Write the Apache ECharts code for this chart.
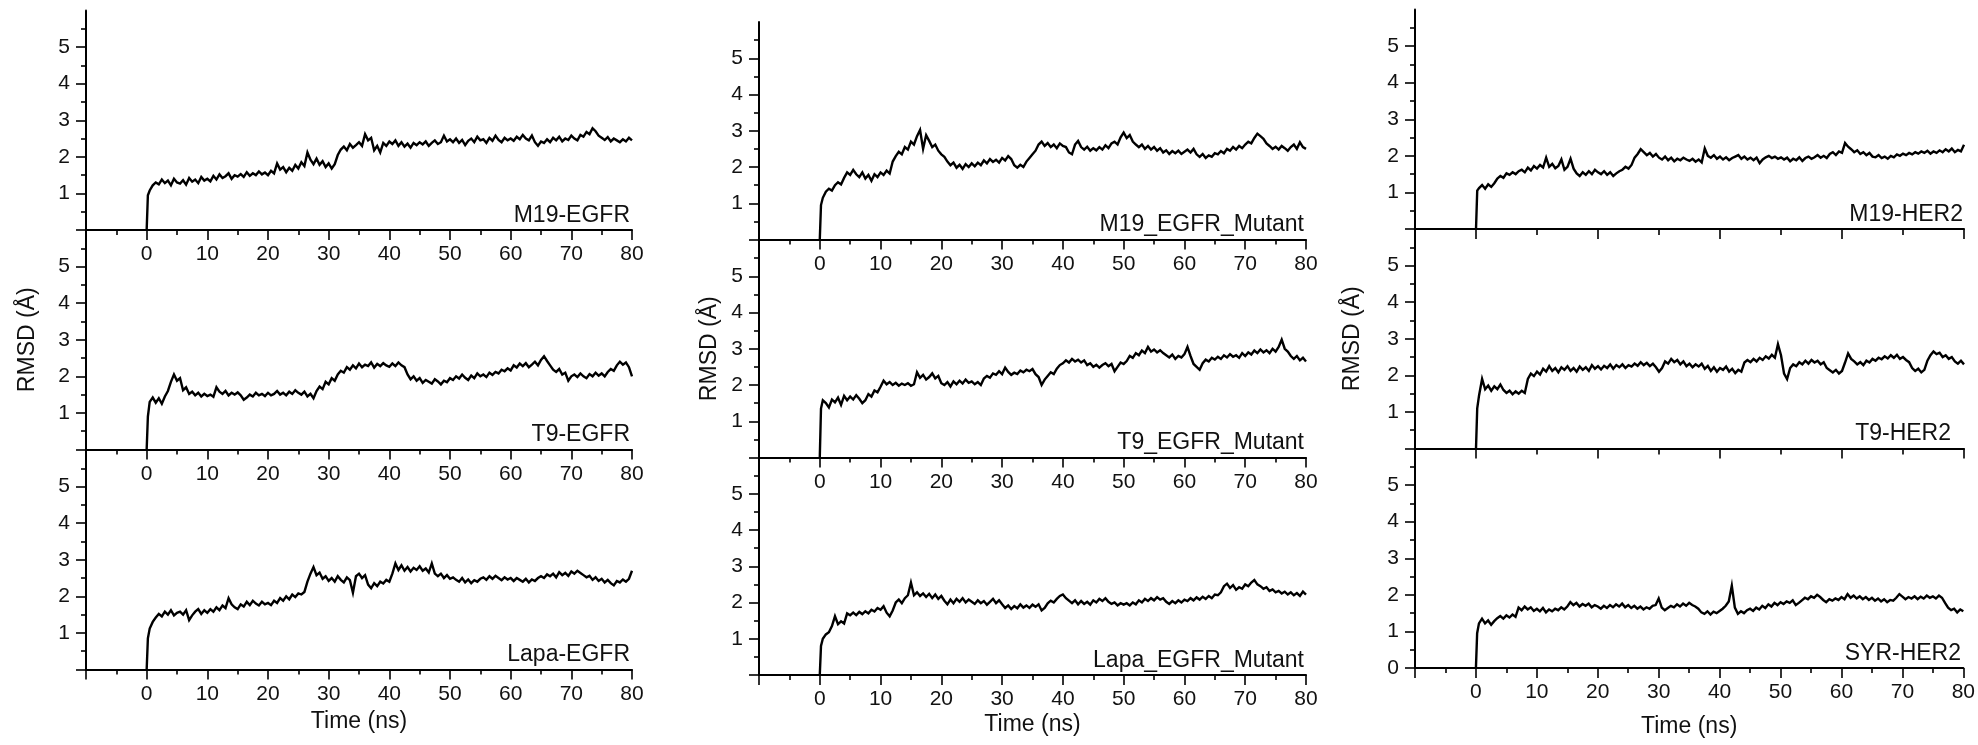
<!DOCTYPE html>
<html>
<head>
<meta charset="utf-8">
<script src="https://cdn.jsdelivr.net/npm/echarts@6/dist/echarts.min.js"></script>
<style>
html,body{margin:0;padding:0;background:#fff;}
#chart{width:1978px;height:745px;}
</style>
</head>
<body>
<div id="chart"></div>
<script>
// ---------------- DATA ----------------
const panelNames = [
  'M19-EGFR', 'T9-EGFR', 'Lapa-EGFR',
  'M19_EGFR_Mutant', 'T9_EGFR_Mutant', 'Lapa_EGFR_Mutant',
  'M19-HER2', 'T9-HER2', 'SYR-HER2'
];
const xTickLabels = [0, 10, 20, 30, 40, 50, 60, 70, 80];
const yTickLabels = [1, 2, 3, 4, 5];
const yTickLabelsWithZero = [0, 1, 2, 3, 4, 5];
const xAxisTitle = 'Time (ns)';
const yAxisTitle = 'RMSD (Å)';

// sampling times (ns): 0, 0.2, then every 0.5 ns up to 80
const startTimes = [0, 0.2];
const sampleStep = 0.5;
const sampleEnd = 80;

const rmsdM19EGFR = [0, 0.95,
  1.08, 1.22, 1.30, 1.25, 1.38, 1.28, 1.35, 1.22, 1.40, 1.30,
  1.27, 1.36, 1.24, 1.42, 1.32, 1.38, 1.28, 1.45, 1.35, 1.40,
  1.33, 1.48, 1.38, 1.52, 1.42, 1.47, 1.55, 1.40, 1.50, 1.46,
  1.53, 1.45, 1.58, 1.48, 1.55, 1.50, 1.60, 1.52, 1.57, 1.50,
  1.62, 1.55, 1.82, 1.65, 1.72, 1.58, 1.70, 1.62, 1.78, 1.68,
  1.85, 1.75, 2.12, 1.92, 1.80, 1.95, 1.78, 1.88, 1.72, 1.82,
  1.68, 1.80, 2.05, 2.20, 2.28, 2.18, 2.35, 2.25, 2.32, 2.40,
  2.30, 2.62, 2.45, 2.52, 2.18, 2.30, 2.12, 2.38, 2.30, 2.42,
  2.35, 2.45, 2.30, 2.40, 2.28, 2.36, 2.25, 2.38, 2.32, 2.40,
  2.34, 2.42, 2.30, 2.38, 2.45, 2.35, 2.40, 2.58, 2.42, 2.48,
  2.40, 2.50, 2.38, 2.46, 2.32, 2.44, 2.50, 2.40, 2.55, 2.45,
  2.48, 2.38, 2.52, 2.44, 2.58, 2.46, 2.40, 2.52, 2.45, 2.50,
  2.44, 2.55, 2.48, 2.60, 2.50, 2.45, 2.58, 2.40, 2.30, 2.42,
  2.38, 2.48, 2.40, 2.52, 2.45, 2.55, 2.42, 2.50, 2.46, 2.58,
  2.50, 2.45, 2.60, 2.55, 2.68, 2.62, 2.78, 2.70, 2.58, 2.52,
  2.46, 2.54, 2.42, 2.50, 2.45, 2.40, 2.48, 2.42, 2.52, 2.45];

const rmsdT9EGFR = [0, 0.90,
  1.30, 1.42, 1.28, 1.40, 1.25, 1.45, 1.60, 1.85, 2.05, 1.88,
  1.95, 1.62, 1.70, 1.52, 1.58, 1.48, 1.55, 1.45, 1.52, 1.46,
  1.50, 1.44, 1.70, 1.58, 1.52, 1.60, 1.48, 1.55, 1.50, 1.56,
  1.48, 1.36, 1.42, 1.50, 1.45, 1.55, 1.48, 1.52, 1.46, 1.55,
  1.48, 1.52, 1.60, 1.50, 1.55, 1.48, 1.58, 1.52, 1.62, 1.55,
  1.50, 1.58, 1.45, 1.52, 1.40, 1.60, 1.72, 1.65, 1.85, 1.78,
  1.95, 1.88, 2.05, 2.15, 2.10, 2.25, 2.18, 2.30, 2.22, 2.35,
  2.25, 2.32, 2.28, 2.38, 2.24, 2.34, 2.28, 2.36, 2.30, 2.26,
  2.35, 2.28, 2.38, 2.30, 2.25, 2.05, 1.92, 2.00, 1.88, 1.95,
  1.82, 1.90, 1.85, 1.80, 1.92, 1.86, 1.78, 1.88, 1.84, 1.95,
  1.90, 2.00, 1.94, 2.05, 1.96, 1.90, 2.02, 1.95, 2.08, 2.00,
  2.05, 1.98, 2.10, 2.04, 2.12, 2.08, 2.18, 2.14, 2.22, 2.16,
  2.30, 2.24, 2.35, 2.28, 2.36, 2.25, 2.32, 2.40, 2.30, 2.45,
  2.55, 2.42, 2.30, 2.18, 2.12, 2.20, 2.05, 2.10, 1.88, 2.00,
  2.05, 1.98, 2.08, 2.00, 1.95, 2.06, 2.00, 2.10, 2.02, 2.08,
  2.00, 2.12, 2.20, 2.15, 2.30, 2.40, 2.32, 2.38, 2.25, 2.00];

const rmsdLapaEGFR = [0, 0.85,
  1.12, 1.30, 1.42, 1.52, 1.45, 1.58, 1.50, 1.62, 1.48, 1.55,
  1.58, 1.50, 1.62, 1.35, 1.48, 1.58, 1.65, 1.52, 1.62, 1.55,
  1.65, 1.58, 1.70, 1.62, 1.75, 1.68, 1.95, 1.78, 1.70, 1.65,
  1.78, 1.72, 1.85, 1.76, 1.88, 1.80, 1.75, 1.85, 1.78, 1.82,
  1.76, 1.88, 1.82, 1.95, 1.88, 2.00, 1.92, 2.05, 1.98, 2.08,
  2.05, 2.12, 2.40, 2.62, 2.80, 2.58, 2.65, 2.48, 2.55, 2.42,
  2.50, 2.40, 2.55, 2.45, 2.38, 2.52, 2.44, 2.10, 2.55, 2.62,
  2.50, 2.58, 2.32, 2.22, 2.36, 2.28, 2.40, 2.35, 2.45, 2.40,
  2.62, 2.90, 2.72, 2.85, 2.70, 2.80, 2.68, 2.78, 2.72, 2.82,
  2.70, 2.76, 2.65, 2.90, 2.62, 2.55, 2.62, 2.50, 2.58, 2.48,
  2.52, 2.45, 2.40, 2.50, 2.38, 2.46, 2.36, 2.44, 2.40, 2.48,
  2.52, 2.45, 2.55, 2.48, 2.56, 2.50, 2.44, 2.52, 2.46, 2.50,
  2.42, 2.50, 2.45, 2.40, 2.48, 2.38, 2.46, 2.42, 2.50, 2.55,
  2.50, 2.60, 2.55, 2.62, 2.52, 2.66, 2.58, 2.64, 2.56, 2.68,
  2.62, 2.70, 2.64, 2.58, 2.52, 2.56, 2.45, 2.52, 2.42, 2.48,
  2.38, 2.45, 2.36, 2.30, 2.42, 2.38, 2.46, 2.40, 2.48, 2.70];

const rmsdM19Mutant = [0, 0.95,
  1.15, 1.32, 1.40, 1.35, 1.50, 1.58, 1.52, 1.70, 1.85, 1.78,
  1.92, 1.80, 1.72, 1.85, 1.68, 1.78, 1.62, 1.80, 1.72, 1.85,
  1.78, 1.90, 1.82, 2.15, 2.30, 2.42, 2.35, 2.55, 2.48, 2.70,
  2.62, 2.85, 3.02, 2.50, 2.88, 2.72, 2.55, 2.62, 2.45, 2.35,
  2.28, 2.15, 2.05, 2.12, 1.98, 2.06, 1.95, 2.08, 2.00, 2.10,
  2.02, 2.12, 2.05, 2.18, 2.10, 2.22, 2.14, 2.20, 2.12, 2.25,
  2.18, 2.30, 2.22, 2.05, 1.98, 2.06, 2.00, 2.15, 2.25, 2.35,
  2.45, 2.62, 2.70, 2.58, 2.66, 2.55, 2.62, 2.52, 2.65, 2.58,
  2.55, 2.40, 2.35, 2.62, 2.72, 2.55, 2.48, 2.56, 2.45, 2.52,
  2.46, 2.55, 2.48, 2.60, 2.52, 2.65, 2.70, 2.62, 2.82, 2.95,
  2.80, 2.88, 2.70, 2.62, 2.55, 2.62, 2.50, 2.58, 2.48, 2.55,
  2.45, 2.52, 2.40, 2.46, 2.36, 2.44, 2.38, 2.45, 2.36, 2.42,
  2.48, 2.40, 2.50, 2.35, 2.28, 2.36, 2.25, 2.32, 2.28, 2.38,
  2.35, 2.44, 2.38, 2.50, 2.45, 2.55, 2.48, 2.58, 2.52, 2.62,
  2.70, 2.65, 2.80, 2.92, 2.85, 2.78, 2.65, 2.58, 2.50, 2.56,
  2.48, 2.58, 2.52, 2.45, 2.55, 2.62, 2.50, 2.68, 2.55, 2.50];

const rmsdT9Mutant = [0, 1.35,
  1.58, 1.50, 1.38, 1.60, 1.52, 1.65, 1.45, 1.70, 1.58, 1.68,
  1.60, 1.72, 1.62, 1.50, 1.58, 1.75, 1.68, 1.85, 1.80, 1.95,
  2.12, 2.02, 2.08, 2.00, 2.06, 1.98, 2.04, 2.00, 2.05, 1.98,
  2.02, 2.35, 2.20, 2.28, 2.15, 2.22, 2.32, 2.18, 2.25, 2.05,
  2.00, 2.08, 1.96, 2.10, 2.02, 2.12, 2.04, 2.15, 2.06, 2.10,
  2.02, 2.08, 2.00, 2.18, 2.25, 2.20, 2.32, 2.28, 2.38, 2.30,
  2.48, 2.36, 2.28, 2.34, 2.30, 2.40, 2.35, 2.42, 2.38, 2.44,
  2.30, 2.22, 2.00, 2.15, 2.25, 2.35, 2.30, 2.45, 2.55, 2.60,
  2.68, 2.62, 2.72, 2.65, 2.70, 2.62, 2.68, 2.55, 2.60, 2.50,
  2.56, 2.48, 2.55, 2.60, 2.52, 2.58, 2.38, 2.50, 2.62, 2.58,
  2.66, 2.80, 2.75, 2.88, 2.82, 2.95, 2.88, 3.05, 2.92, 2.98,
  2.90, 2.96, 2.88, 2.82, 2.76, 2.84, 2.72, 2.80, 2.76, 2.85,
  3.05, 2.80, 2.58, 2.50, 2.42, 2.60, 2.70, 2.65, 2.75, 2.70,
  2.78, 2.72, 2.82, 2.76, 2.85, 2.78, 2.82, 2.75, 2.88, 2.80,
  2.90, 2.84, 2.95, 2.88, 2.98, 2.90, 2.96, 2.88, 3.00, 2.92,
  3.05, 3.25, 3.00, 2.92, 2.80, 2.72, 2.80, 2.68, 2.75, 2.65];

const rmsdLapaMutant = [0, 0.80,
  1.00, 1.12, 1.18, 1.35, 1.62, 1.40, 1.48, 1.42, 1.70, 1.65,
  1.72, 1.65, 1.74, 1.68, 1.76, 1.70, 1.80, 1.75, 1.85, 1.80,
  1.90, 1.72, 1.62, 1.78, 2.00, 2.08, 1.98, 2.12, 2.20, 2.55,
  2.20, 2.28, 2.18, 2.25, 2.15, 2.24, 2.12, 2.22, 2.10, 2.18,
  2.05, 1.95, 2.08, 1.98, 2.10, 2.02, 2.12, 2.00, 2.08, 2.02,
  1.96, 2.06, 1.98, 2.04, 1.94, 2.02, 2.10, 1.98, 2.06, 1.95,
  1.85, 1.92, 1.82, 1.90, 1.84, 1.95, 1.86, 1.92, 1.85, 1.94,
  1.88, 1.95, 1.78, 1.85, 1.98, 2.05, 2.00, 2.10, 2.18, 2.22,
  2.12, 2.05, 1.98, 2.06, 1.95, 2.04, 1.96, 2.02, 1.94, 2.06,
  2.00, 2.10, 2.04, 2.12, 2.02, 1.96, 2.00, 1.92, 1.98, 1.94,
  1.98, 1.92, 2.00, 1.95, 2.06, 2.00, 2.10, 2.04, 2.12, 2.06,
  2.15, 2.08, 2.12, 2.02, 1.96, 2.04, 1.98, 2.06, 2.00, 2.08,
  2.04, 2.12, 2.06, 2.14, 2.08, 2.16, 2.10, 2.18, 2.12, 2.22,
  2.20, 2.28, 2.45, 2.52, 2.40, 2.48, 2.35, 2.42, 2.38, 2.50,
  2.45, 2.55, 2.62, 2.50, 2.45, 2.38, 2.42, 2.32, 2.36, 2.28,
  2.32, 2.25, 2.30, 2.22, 2.28, 2.20, 2.26, 2.18, 2.30, 2.22];

const rmsdM19HER2 = [0, 1.05,
  1.12, 1.20, 1.10, 1.22, 1.15, 1.25, 1.38, 1.45, 1.40, 1.52,
  1.48, 1.55, 1.50, 1.58, 1.62, 1.55, 1.68, 1.60, 1.72, 1.65,
  1.75, 1.68, 1.95, 1.70, 1.78, 1.66, 1.72, 1.90, 1.62, 1.70,
  1.92, 1.65, 1.52, 1.45, 1.55, 1.48, 1.58, 1.50, 1.62, 1.55,
  1.50, 1.58, 1.48, 1.55, 1.45, 1.52, 1.58, 1.62, 1.70, 1.65,
  1.75, 1.95, 2.05, 2.18, 2.10, 2.02, 2.08, 1.98, 2.05, 1.95,
  1.90, 1.98, 1.88, 1.95, 1.85, 1.92, 1.88, 1.95, 1.90, 1.86,
  1.92, 1.84, 1.90, 1.82, 2.20, 2.00, 1.95, 2.02, 1.92, 1.98,
  1.90, 1.96, 1.88, 1.94, 1.98, 2.02, 1.92, 1.98, 1.90, 1.95,
  1.88, 1.95, 1.80, 1.90, 1.96, 2.00, 1.94, 1.98, 1.92, 1.96,
  1.90, 1.95, 1.85, 1.92, 1.88, 1.96, 1.86, 1.94, 1.98, 1.92,
  1.96, 2.02, 1.95, 2.00, 1.94, 2.05, 2.10, 2.02, 2.12, 2.08,
  2.35, 2.25, 2.18, 2.10, 2.15, 2.05, 2.10, 2.02, 2.08, 1.98,
  1.96, 2.02, 1.94, 1.98, 1.92, 2.00, 1.96, 2.04, 2.00, 2.06,
  2.02, 2.08, 2.04, 2.10, 2.06, 2.12, 2.08, 2.14, 2.06, 2.12,
  2.08, 2.15, 2.10, 2.18, 2.12, 2.20, 2.10, 2.16, 2.12, 2.30];

const rmsdT9HER2 = [0, 1.10,
  1.45, 1.90, 1.62, 1.72, 1.58, 1.70, 1.62, 1.75, 1.60, 1.52,
  1.58, 1.48, 1.56, 1.50, 1.58, 1.52, 1.90, 2.05, 1.98, 2.10,
  2.02, 2.18, 2.10, 2.25, 2.12, 2.20, 2.08, 2.22, 2.15, 2.25,
  2.12, 2.20, 2.10, 2.24, 2.15, 2.22, 2.12, 2.28, 2.18, 2.25,
  2.16, 2.26, 2.20, 2.30, 2.18, 2.28, 2.22, 2.30, 2.20, 2.28,
  2.24, 2.32, 2.26, 2.36, 2.28, 2.34, 2.25, 2.32, 2.22, 2.10,
  2.20, 2.38, 2.32, 2.45, 2.36, 2.42, 2.30, 2.38, 2.25, 2.32,
  2.22, 2.30, 2.24, 2.32, 2.18, 2.26, 2.12, 2.22, 2.10, 2.20,
  2.15, 2.24, 2.10, 2.18, 2.06, 2.15, 2.10, 2.35, 2.42, 2.36,
  2.45, 2.38, 2.48, 2.42, 2.52, 2.46, 2.56, 2.48, 2.85, 2.55,
  2.05, 1.90, 2.20, 2.30, 2.25, 2.36, 2.30, 2.40, 2.32, 2.42,
  2.35, 2.40, 2.30, 2.36, 2.20, 2.14, 2.08, 2.15, 2.05, 2.12,
  2.35, 2.60, 2.45, 2.38, 2.30, 2.36, 2.28, 2.40, 2.35, 2.45,
  2.40, 2.48, 2.44, 2.52, 2.46, 2.55, 2.48, 2.56, 2.45, 2.50,
  2.42, 2.36, 2.20, 2.12, 2.18, 2.08, 2.15, 2.40, 2.55, 2.65,
  2.58, 2.62, 2.50, 2.55, 2.45, 2.50, 2.38, 2.32, 2.40, 2.30];

const rmsdSYRHER2 = [0, 0.95,
  1.22, 1.35, 1.22, 1.30, 1.18, 1.28, 1.36, 1.42, 1.35, 1.44,
  1.38, 1.46, 1.40, 1.65, 1.58, 1.68, 1.60, 1.66, 1.56, 1.62,
  1.55, 1.64, 1.52, 1.60, 1.55, 1.62, 1.58, 1.66, 1.60, 1.68,
  1.80, 1.72, 1.78, 1.68, 1.75, 1.70, 1.76, 1.66, 1.72, 1.68,
  1.62, 1.70, 1.64, 1.72, 1.66, 1.74, 1.68, 1.76, 1.66, 1.72,
  1.64, 1.70, 1.62, 1.68, 1.60, 1.66, 1.62, 1.70, 1.72, 1.90,
  1.65, 1.58, 1.64, 1.70, 1.66, 1.74, 1.68, 1.76, 1.70, 1.78,
  1.72, 1.68, 1.62, 1.52, 1.48, 1.55, 1.46, 1.54, 1.50, 1.56,
  1.62, 1.70, 1.82, 2.25, 1.65, 1.48, 1.55, 1.50, 1.58, 1.62,
  1.56, 1.65, 1.60, 1.70, 1.64, 1.74, 1.68, 1.78, 1.72, 1.80,
  1.75, 1.82, 1.78, 1.85, 1.72, 1.78, 1.85, 1.92, 1.88, 1.96,
  1.92, 2.00, 1.94, 1.86, 1.80, 1.88, 1.84, 1.90, 1.86, 1.94,
  1.88, 2.02, 1.92, 1.98, 1.90, 1.96, 1.88, 1.94, 1.86, 1.92,
  1.84, 1.90, 1.82, 1.88, 1.80, 1.86, 1.84, 1.92, 2.02, 1.95,
  1.88, 1.94, 1.90, 1.96, 1.88, 1.95, 1.90, 1.98, 1.92, 1.96,
  1.90, 1.98, 1.92, 1.78, 1.65, 1.58, 1.62, 1.52, 1.60, 1.55];

const seriesValues = [
  rmsdM19EGFR, rmsdT9EGFR, rmsdLapaEGFR,
  rmsdM19Mutant, rmsdT9Mutant, rmsdLapaMutant,
  rmsdM19HER2, rmsdT9HER2, rmsdSYRHER2
];

// ---------------- LAYOUT / STYLE ----------------
const FONT = '"Liberation Sans", Arial, Helvetica, sans-serif';
const cols = [
  { left: 86,   width: 546, tops: [10.5, 230, 450],   h: 219.5, nameGapY: 47, nameGapX: 41, labelDx: [2, 2, 2] },
  { left: 759,  width: 547, tops: [22, 240, 457.5],   h: 217.5, nameGapY: 38, nameGapX: 38, labelDx: [2, 2, 2] },
  { left: 1415, width: 549, tops: [9.5, 229, 448.5],  h: 219.5, nameGapY: 51, nameGapX: 47, labelDx: [1, 13, 3] }
];

const times = startTimes.slice();
for (let t = sampleStep; t <= sampleEnd + 1e-9; t += sampleStep) times.push(Math.round(t * 10) / 10);

const grids = [], xAxes = [], yAxes = [], series = [], graphics = [];
const axisLineStyle = { color: '#000', width: 2 };
const tickStyle = { color: '#000', width: 1.6 };
const TXT = '#111';

cols.forEach((c, ci) => {
  c.tops.forEach((top, ri) => {
    const idx = ci * 3 + ri;
    grids.push({ left: c.left, top: top, width: c.width, height: c.h, containLabel: false });
    const isBottom = ri === 2;
    const her2Upper = ci === 2 && !isBottom;
    const xa = {
      type: 'value', gridIndex: idx, min: -10, max: 80, interval: 10,
      position: 'bottom',
      axisLine: { show: true, onZero: false, lineStyle: axisLineStyle },
      splitLine: { show: false },
      axisTick: { show: true, inside: false, length: 10, lineStyle: tickStyle },
      minorTick: { show: !her2Upper, splitNumber: 2, length: 5, lineStyle: tickStyle },
      axisLabel: {
        show: !her2Upper, customValues: xTickLabels, margin: 14,
        fontFamily: FONT, fontSize: 21, color: TXT
      }
    };
    if (her2Upper) {
      xa.axisTick.customValues = [0, 20, 40, 60, 80];
    }
    if (isBottom) {
      xa.name = xAxisTitle;
      xa.nameLocation = 'middle';
      xa.nameGap = c.nameGapX;
      xa.nameTextStyle = { fontFamily: FONT, fontSize: 23, color: TXT };
    }
    xAxes.push(xa);
    yAxes.push({
      type: 'value', gridIndex: idx, min: 0, max: 6, interval: 1,
      axisLine: { show: true, onZero: false, lineStyle: axisLineStyle },
      splitLine: { show: false },
      axisTick: { show: true, length: 10, customValues: yTickLabelsWithZero, lineStyle: tickStyle },
      minorTick: { show: true, splitNumber: 2, length: 5, lineStyle: tickStyle },
      axisLabel: {
        customValues: (ci === 2 && isBottom) ? yTickLabelsWithZero : yTickLabels,
        margin: 16, fontFamily: FONT, fontSize: 21, color: TXT
      },
      name: ri === 1 ? yAxisTitle : '',
      nameLocation: 'middle', nameGap: c.nameGapY,
      nameTextStyle: { fontFamily: FONT, fontSize: 23, color: TXT }
    });
    const vals = seriesValues[idx];
    series.push({
      type: 'line', name: panelNames[idx], xAxisIndex: idx, yAxisIndex: idx,
      data: vals.map((v, i) => [times[i], v]),
      showSymbol: false, symbol: 'none', smooth: false, sampling: false,
      lineStyle: { color: '#000', width: 2.4, join: 'miter' }, animation: false, silent: true
    });
    graphics.push({
      type: 'text',
      x: c.left + c.width - c.labelDx[ri],
      y: top + c.h - 3,
      style: { text: panelNames[idx], font: '23px ' + FONT, fill: TXT, align: 'right', verticalAlign: 'bottom' }
    });
  });
});

// extra short ticks for the upper HER2 panels (10, 30, 50, 70)
[6, 7].forEach(idx => {
  xAxes.push({
    type: 'value', gridIndex: idx, min: -10, max: 80, interval: 10, position: 'bottom',
    axisLine: { show: false, onZero: false },
    splitLine: { show: false },
    axisTick: { show: true, length: 6, customValues: [10, 30, 50, 70], lineStyle: tickStyle },
    axisLabel: { show: false }
  });
});

const chart = echarts.init(document.getElementById('chart'), null, { renderer: 'canvas' });
chart.setOption({
  backgroundColor: '#fff',
  animation: false,
  grid: grids,
  xAxis: xAxes,
  yAxis: yAxes,
  series: series,
  graphic: graphics
});
</script>
</body>
</html>
